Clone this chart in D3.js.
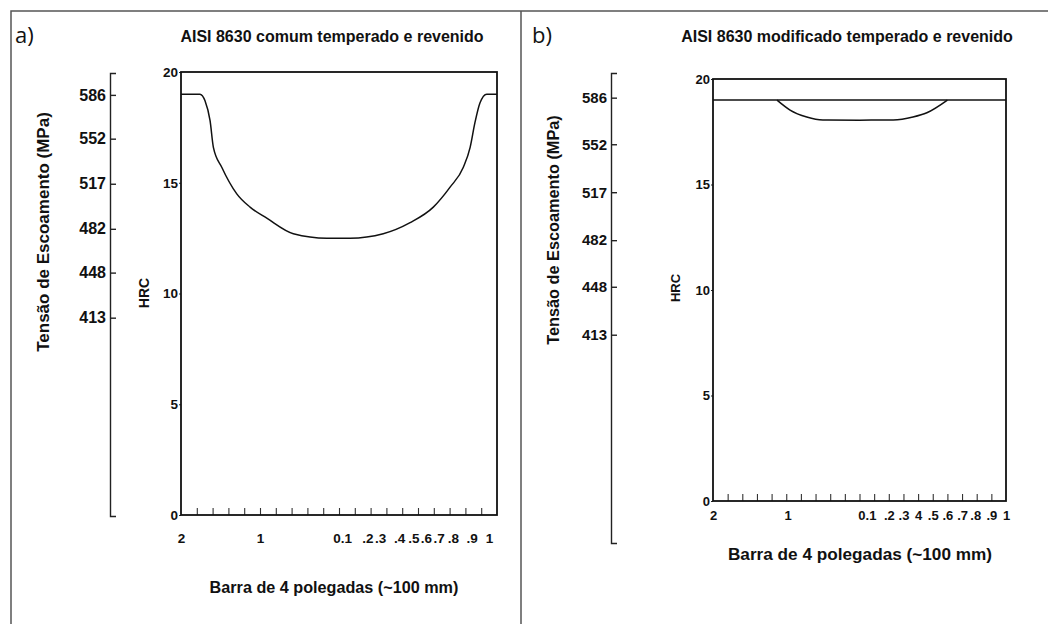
<!DOCTYPE html>
<html>
<head>
<meta charset="utf-8">
<script src="https://cdn.jsdelivr.net/npm/d3@7"></script>
<style>
  body { margin: 0; background: #fff; }
  svg { display: block; }
  text { font-family: "Liberation Sans", Arial, sans-serif; fill: #111; }
</style>
</head>
<body>
<svg id="chart" width="1048" height="624"></svg>
<script>
// hardness scale and yield strength scale
const hrcTicks = [0, 5, 10, 15, 20];
const mpaTicks = [413, 448, 482, 517, 552, 586];
// minor ticks along the bar (positions in tick units, 0..20)
const barTicks = [1, 2, 3, 4, 5, 6, 7, 8, 9, 10, 11, 12, 13, 14, 15, 16, 17, 18, 19];

// bar position labels
const labelsA = ["2", "1", "0.1", ".2", ".3", ".4", ".5", ".6", ".7", ".8", ".9", "1"];
const labelPosA = [0, 5, 10.2, 11.8, 12.6, 13.8, 14.7, 15.5, 16.3, 17.2, 18.4, 19.5];
const labelsB = ["2", "1", "0.1", ".2", ".3", "4", ".5", ".6", ".7", ".8", ".9", "1"];
const labelPosB = [0, 5.1, 10.5, 12, 13, 14, 15, 16, 17, 17.9, 19, 20];

// a) common 8630 hardness profile
const posA = [0, 1.2, 1.52, 1.84, 2.05, 2.58, 3.53, 4.37, 5.43, 7.11, 9.23, 10.7, 12.8, 14.5, 15.97, 17.03, 17.87, 18.3, 18.6, 18.92, 19.35, 20];
const hrcA = [19.0, 19.0, 18.7, 17.8, 16.6, 15.7, 14.5, 13.9, 13.4, 12.7, 12.5, 12.5, 12.7, 13.2, 13.9, 14.8, 15.7, 16.6, 17.7, 18.6, 19.0, 19.0];

// b) modified 8630: flat line plus shallow dip
const posB = [0, 20];
const hrcB = [19.0, 19.0];
const posBDip = [4.37, 5.26, 6.4, 7.5, 10, 12.3, 13.65, 14.6, 16.0];
const hrcBDip = [19.0, 18.53, 18.2, 18.06, 18.05, 18.06, 18.2, 18.4, 19.0];

const svg = d3.select('#chart');

//outer frame
svg.append('path')
    .attr('d', 'M11,624 V11 H1048 M521,11 V624')
    .attr('fill', 'none')
    .attr('stroke', '#555')
    .attr('stroke-width', 1.5);

const panels = [
  {letter: 'a)', lx: 15, title: 'AISI 8630 comum temperado e revenido', tx: 332, titleSize: 16,
   plot: {left: 181, right: 497, top: 72, bottom: 515},
   mpa: {x: 110, top: 73, bottom: 516, domain: [259, 603]}, mpaFont: 16,
   ytitleX: 43, ytitleY: 232, ytitleSize: 17,
   hrcX: 144, hrcY: 293, hrcSize: 14, tickSize: 13.5,
   labels: labelsA, labelPos: labelPosA, labelY: 545,
   xtitleX: 334, xtitleY: 593, xtitleSize: 16.2,
   curves: [[posA, hrcA]]},
  {letter: 'b)', lx: 532, title: 'AISI 8630 modificado temperado e revenido', tx: 847, titleSize: 16,
   plot: {left: 713, right: 1006, top: 79, bottom: 501},
   mpa: {x: 611, top: 73, bottom: 543, domain: [261, 604]}, mpaFont: 15,
   ytitleX: 553, ytitleY: 230, ytitleSize: 16.3,
   hrcX: 675, hrcY: 288, hrcSize: 13, tickSize: 13,
   labels: labelsB, labelPos: labelPosB, labelY: 523,
   xtitleX: 860, xtitleY: 560, xtitleSize: 17.2,
   curves: [[posB, hrcB], [posBDip, hrcBDip]]}
];

panels.forEach(drawPanel);

function drawPanel(p) {
    const g = svg.append('g');

    g.append('text')
        .attr('x', p.lx).attr('y', 43)
        .style('font', '22px "Open Sans", sans-serif')
        .text(p.letter);

    g.append('text')
        .attr('x', p.tx).attr('y', 42)
        .attr('text-anchor', 'middle')
        .style('font-weight', 'bold').style('font-size', p.titleSize + 'px')
        .text(p.title);

    const x = d3.scaleLinear().domain([0, 20]).range([p.plot.left, p.plot.right]);
    const y = d3.scaleLinear().domain([0, 20]).range([p.plot.bottom, p.plot.top]);
    const m = d3.scaleLinear().domain(p.mpa.domain).range([p.mpa.bottom, p.mpa.top]);

    //yield strength axis: bracket line, ticks right, labels left
    const mAxis = g.append('g')
        .attr('transform', `translate(${p.mpa.x},0)`)
        .call(d3.axisRight(m).tickValues(mpaTicks).tickSize(6).tickSizeOuter(6));
    mAxis.selectAll('path, line').attr('stroke', '#222').attr('stroke-width', 1.4);
    mAxis.selectAll('text')
        .attr('x', -4).attr('text-anchor', 'end')
        .style('font-family', '"Liberation Sans", Arial, sans-serif')
        .style('font-weight', 'bold').style('font-size', p.mpaFont + 'px')
        .attr('fill', '#111');

    g.append('text')
        .attr('transform', `translate(${p.ytitleX},${p.ytitleY}) rotate(-90)`)
        .attr('text-anchor', 'middle').attr('dy', '0.35em')
        .style('font-weight', 'bold').style('font-size', p.ytitleSize + 'px')
        .text('Tensão de Escoamento (MPa)');

    g.append('text')
        .attr('transform', `translate(${p.hrcX},${p.hrcY}) rotate(-90)`)
        .attr('text-anchor', 'middle').attr('dy', '0.35em')
        .style('font-weight', 'bold').style('font-size', p.hrcSize + 'px')
        .text('HRC');

    //HRC axis
    const yAxis = g.append('g')
        .attr('transform', `translate(${p.plot.left},0)`)
        .call(d3.axisLeft(y).tickValues(hrcTicks).tickSize(2).tickPadding(1).tickSizeOuter(0));
    yAxis.select('.domain').remove();
    yAxis.selectAll('line').attr('stroke', '#222');
    yAxis.selectAll('text')
        .style('font-family', '"Liberation Sans", Arial, sans-serif')
        .style('font-weight', 'bold').style('font-size', p.tickSize + 'px').attr('fill', '#111');

    //bar position ticks (pointing up inside the box)
    const tAxis = g.append('g')
        .attr('transform', `translate(0,${p.plot.bottom})`)
        .call(d3.axisTop(x).tickValues(barTicks).tickSize(7).tickFormat(''));
    tAxis.select('.domain').remove();
    tAxis.selectAll('line').attr('stroke', '#333').attr('stroke-width', 1.1);

    //bar position labels
    const xAxis = g.append('g')
        .attr('transform', `translate(0,${p.labelY - 12})`)
        .call(d3.axisBottom(x).tickValues(p.labelPos).tickSize(0).tickPadding(0)
              .tickFormat((d, i) => p.labels[i]));
    xAxis.select('.domain').remove();
    xAxis.selectAll('text')
        .style('font-family', '"Liberation Sans", Arial, sans-serif')
        .style('font-weight', 'bold').style('font-size', p.tickSize + 'px').attr('fill', '#111');

    g.append('text')
        .attr('x', p.xtitleX).attr('y', p.xtitleY)
        .attr('text-anchor', 'middle')
        .style('font-weight', 'bold').style('font-size', p.xtitleSize + 'px')
        .text('Barra de 4 polegadas (~100 mm)');

    //plot box
    g.append('rect')
        .attr('x', x(0)).attr('y', y(20))
        .attr('width', x(20) - x(0)).attr('height', y(0) - y(20))
        .attr('fill', 'none').attr('stroke', '#111').attr('stroke-width', 1.8);

    const line = d3.line()
        .x(d => x(d[0]))
        .y(d => y(d[1]))
        .curve(d3.curveMonotoneX);

    p.curves.forEach(c => {
        g.append('path')
            .datum(c[0].map((v, i) => [v, c[1][i]]))
            .attr('d', line)
            .attr('fill', 'none')
            .attr('stroke', '#111')
            .attr('stroke-width', 1.5);
    });
}
</script>
</body>
</html>
